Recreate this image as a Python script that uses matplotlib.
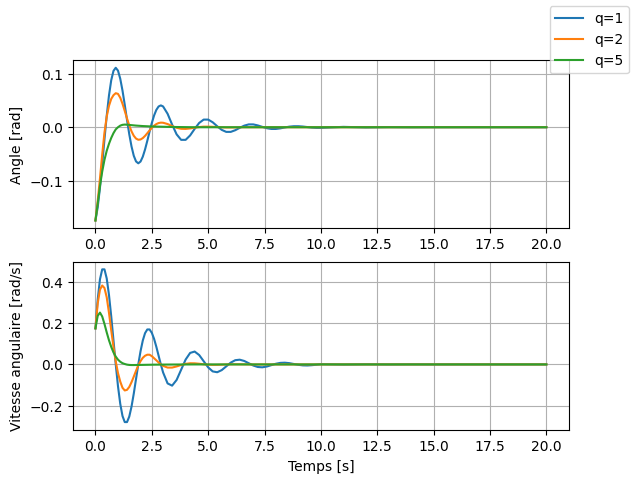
import matplotlib
matplotlib.use("Agg")
import matplotlib.pyplot as plt

# time samples (s)
t = [0.0, 0.1, 0.2, 0.3, 0.4, 0.5, 0.6, 0.7, 0.8, 0.9,
     1.0, 1.1, 1.2, 1.3, 1.4, 1.5, 1.6, 1.7, 1.8, 1.9,
     2.0, 2.1, 2.2, 2.3, 2.4, 2.5, 2.6, 2.7, 2.8, 2.9, 3.0,
     3.2, 3.4, 3.6, 3.8, 4.0, 4.2, 4.4, 4.6, 4.8, 5.0,
     5.2, 5.4, 5.6, 5.8, 6.0, 6.2, 6.4, 6.6, 6.8, 7.0,
     7.2, 7.4, 7.6, 7.8, 8.0, 8.2, 8.4, 8.6, 8.8, 9.0,
     9.2, 9.4, 9.6, 9.8, 10.0,
     11.0, 12.0, 13.0, 14.0, 15.0, 16.0, 17.0, 18.0, 19.0, 20.0]

labels = ["q=1", "q=2", "q=5"]

# angle [rad]
angle_q1 = [-0.1745, -0.1498, -0.1131, -0.0690, -0.0226, 0.0215, 0.0594, 0.0880, 0.1055, 0.1113,
            0.1059, 0.0908, 0.0686, 0.0419, 0.0137, -0.0131, -0.0360, -0.0534, -0.0640, -0.0675,
            -0.0642, -0.0551, -0.0416, -0.0254, -0.0083, 0.0079, 0.0219, 0.0324, 0.0388, 0.0409, 0.0389,
            0.0252, 0.0050, -0.0133, -0.0236, -0.0236, -0.0153, -0.0031, 0.0080, 0.0143, 0.0143,
            0.0093, 0.0019, -0.0049, -0.0087, -0.0087, -0.0056, -0.0011, 0.0030, 0.0053, 0.0053,
            0.0034, 0.0007, -0.0018, -0.0032, -0.0032, -0.0021, -0.0004, 0.0011, 0.0019, 0.0019,
            0.0013, 0.0003, -0.0007, -0.0012, -0.0012,
            0.0007, -0.0004, 0.0002, -0.0001, 0.0, 0.0, 0.0, 0.0, 0.0, 0.0]

angle_q2 = [-0.1745, -0.138, -0.096, -0.051, -0.010, 0.020, 0.040, 0.053, 0.060, 0.0637,
            0.0624, 0.0552, 0.0440, 0.0305, 0.0164, 0.0033, -0.0077, -0.0160, -0.0212, -0.0234,
            -0.0229, -0.0203, -0.0162, -0.0112, -0.0060, -0.0012, 0.0028, 0.0059, 0.0078, 0.0086, 0.0084,
            0.0060, 0.0022, -0.0010, -0.0029, -0.0031, -0.0022, -0.0008, 0.0004, 0.0011, 0.0011,
            0.0008, 0.0003, -0.0001, -0.0004, -0.0004, -0.0003, -0.0001, 0.0, 0.0, 0.0,
            0.0, 0.0, 0.0, 0.0, 0.0, 0.0, 0.0, 0.0, 0.0, 0.0,
            0.0, 0.0, 0.0, 0.0, 0.0,
            0.0, 0.0, 0.0, 0.0, 0.0, 0.0, 0.0, 0.0, 0.0, 0.0]

angle_q5 = [-0.1745, -0.143, -0.110, -0.083, -0.061, -0.044, -0.031, -0.020, -0.011, -0.004,
            0.000, 0.003, 0.0045, 0.0050, 0.0047, 0.0043, 0.0039, 0.0035, 0.0031, 0.0028,
            0.0025, 0.0022, 0.0020, 0.0018, 0.0016, 0.0014, 0.0013, 0.0012, 0.0011, 0.0010, 0.0009,
            0.0007, 0.0005, 0.0004, 0.0003, 0.0002, 0.0001, 0.0, 0.0, 0.0, 0.0,
            0.0, 0.0, 0.0, 0.0, 0.0, 0.0, 0.0, 0.0, 0.0, 0.0,
            0.0, 0.0, 0.0, 0.0, 0.0, 0.0, 0.0, 0.0, 0.0, 0.0,
            0.0, 0.0, 0.0, 0.0, 0.0,
            0.0, 0.0, 0.0, 0.0, 0.0, 0.0, 0.0, 0.0, 0.0, 0.0]

# angular velocity [rad/s]
speed_q1 = [0.1745, 0.3147, 0.4117, 0.4602, 0.4602, 0.4162, 0.3367, 0.2326, 0.1162, 0.0000,
            -0.1056, -0.1908, -0.2497, -0.2791, -0.2791, -0.2525, -0.2042, -0.1411, -0.0705, 0.0002,
            0.0640, 0.1157, 0.1514, 0.1693, 0.1693, 0.1531, 0.1239, 0.0856, 0.0427, 0.0000, -0.0388,
            -0.0919, -0.1027, -0.0751, -0.0259, 0.0236, 0.0557, 0.0623, 0.0456, 0.0157, -0.0143,
            -0.0338, -0.0378, -0.0276, -0.0095, 0.0087, 0.0205, 0.0229, 0.0168, 0.0058, -0.0053,
            -0.0124, -0.0139, -0.0102, -0.0035, 0.0032, 0.0075, 0.0084, 0.0062, 0.0021, -0.0019,
            -0.0046, -0.0051, -0.0037, -0.0013, 0.0012,
            -0.0008, 0.0005, -0.0003, 0.0002, -0.0001, 0.0, 0.0, 0.0, 0.0, 0.0]

speed_q2 = [0.1745, 0.295, 0.362, 0.382, 0.370, 0.325, 0.250, 0.165, 0.085, 0.015,
            -0.042, -0.083, -0.113, -0.126, -0.123, -0.109, -0.086, -0.059, -0.031, -0.005,
            0.016, 0.032, 0.042, 0.047, 0.047, 0.040, 0.030, 0.020, 0.0095, 0.0003, -0.0070,
            -0.0152, -0.0152, -0.0097, -0.0027, 0.0029, 0.0056, 0.0053, 0.0033, 0.0007, -0.0012,
            -0.0020, -0.0018, -0.0011, -0.0002, 0.0005, 0.0007, 0.0006, 0.0003, 0.0, -0.0002,
            -0.0002, 0.0, 0.0, 0.0, 0.0, 0.0, 0.0, 0.0, 0.0, 0.0,
            0.0, 0.0, 0.0, 0.0, 0.0,
            0.0, 0.0, 0.0, 0.0, 0.0, 0.0, 0.0, 0.0, 0.0, 0.0]

speed_q5 = [0.1745, 0.235, 0.251, 0.232, 0.196, 0.155, 0.117, 0.085, 0.058, 0.038,
            0.023, 0.013, 0.006, 0.002, -0.001, -0.0025, -0.0030, -0.0030, -0.0028, -0.0026,
            -0.0024, -0.0022, -0.0020, -0.0018, -0.0016, -0.0014, -0.0012, -0.0011, -0.0010, -0.0009, -0.0008,
            -0.0006, -0.0005, -0.0004, -0.0003, -0.0002, -0.0001, 0.0, 0.0, 0.0, 0.0,
            0.0, 0.0, 0.0, 0.0, 0.0, 0.0, 0.0, 0.0, 0.0, 0.0,
            0.0, 0.0, 0.0, 0.0, 0.0, 0.0, 0.0, 0.0, 0.0, 0.0,
            0.0, 0.0, 0.0, 0.0, 0.0,
            0.0, 0.0, 0.0, 0.0, 0.0, 0.0, 0.0, 0.0, 0.0, 0.0]

angles = [angle_q1, angle_q2, angle_q5]
speeds = [speed_q1, speed_q2, speed_q5]

fig, (ax1, ax2) = plt.subplots(2, 1, figsize=(6.4, 4.8), dpi=100)

for lab, a in zip(labels, angles):
    ax1.plot(t, a, label=lab)
for s in speeds:
    ax2.plot(t, s)

ax1.set_ylabel("Angle [rad]")
ax1.grid(True)
ax2.set_ylabel("Vitesse angulaire [rad/s]")
ax2.set_xlabel("Temps [s]")
ax2.grid(True)

fig.legend(loc="upper right")
fig.savefig("out.png", bbox_inches="tight")
